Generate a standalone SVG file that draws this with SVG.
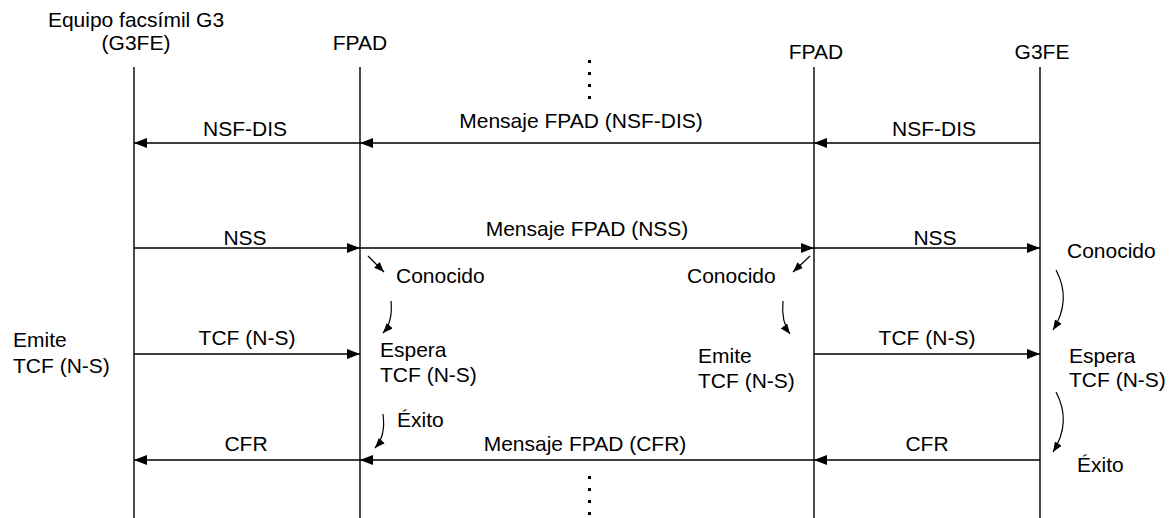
<svg xmlns="http://www.w3.org/2000/svg" width="1175" height="518" viewBox="0 0 1175 518">
<style>
text{font-family:"Liberation Sans",Arial,sans-serif;font-size:21px;fill:#000}
.m{text-anchor:middle}
.life{stroke:#000;stroke-width:1.4;fill:none}
.msg{stroke:#000;stroke-width:1.4;fill:none;marker-end:url(#ah)}
.sm{stroke:#000;stroke-width:1.2;fill:none;marker-end:url(#sh)}
.dot{fill:#000}
</style>
<defs>
<marker id="ah" markerUnits="userSpaceOnUse" markerWidth="14" markerHeight="11" refX="13" refY="5" orient="auto"><path d="M0,0 L13,5 L0,10 z" fill="#000"/></marker>
<marker id="sh" markerUnits="userSpaceOnUse" markerWidth="11" markerHeight="9" refX="10" refY="4" orient="auto"><path d="M0,0 L10,4 L0,8 z" fill="#000"/></marker>
</defs>
<g id="g3fe-left">
<text class="m" x="136" y="27">Equipo facsímil G3</text>
<text class="m" x="136" y="50">(G3FE)</text>
<line class="life" x1="134" y1="67" x2="134" y2="518"/>
<text x="13" y="347">Emite</text>
<text x="13" y="373">TCF (N-S)</text>
</g>
<g id="fpad-left">
<text class="m" x="360" y="50">FPAD</text>
<line class="life" x1="360" y1="67" x2="360" y2="518"/>
<text x="396" y="283">Conocido</text>
<text x="380" y="357">Espera</text>
<text x="380" y="382">TCF (N-S)</text>
<text x="397" y="427">Éxito</text>
</g>
<g id="fpad-right">
<text class="m" x="816" y="59">FPAD</text>
<line class="life" x1="814" y1="67" x2="814" y2="518"/>
<text x="687" y="283">Conocido</text>
<text x="698" y="363">Emite</text>
<text x="698" y="388">TCF (N-S)</text>
</g>
<g id="g3fe-right">
<text class="m" x="1042" y="59">G3FE</text>
<line class="life" x1="1040" y1="67" x2="1040" y2="518"/>
<text x="1067" y="258">Conocido</text>
<text x="1069" y="363">Espera</text>
<text x="1069" y="387">TCF (N-S)</text>
<text x="1077" y="472">Éxito</text>
</g>
<g id="ellipsis">
<rect class="dot" x="588" y="60" width="3" height="3"/>
<rect class="dot" x="588" y="72" width="3" height="3"/>
<rect class="dot" x="588" y="84" width="3" height="3"/>
<rect class="dot" x="588" y="96" width="3" height="3"/>
<rect class="dot" x="588" y="476" width="3" height="3"/>
<rect class="dot" x="588" y="488" width="3" height="3"/>
<rect class="dot" x="588" y="500" width="3" height="3"/>
<rect class="dot" x="588" y="512" width="3" height="3"/>
</g>
<g id="connectors">
<line class="msg" x1="360" y1="143" x2="134" y2="143"/>
<line class="msg" x1="814" y1="143" x2="360" y2="143"/>
<line class="msg" x1="1040" y1="143" x2="814" y2="143"/>
<line class="msg" x1="134" y1="248" x2="360" y2="248"/>
<line class="msg" x1="360" y1="248" x2="814" y2="248"/>
<line class="msg" x1="814" y1="248" x2="1040" y2="248"/>
<line class="msg" x1="134" y1="354" x2="360" y2="354"/>
<line class="msg" x1="814" y1="354" x2="1040" y2="354"/>
<line class="msg" x1="360" y1="460" x2="134" y2="460"/>
<line class="msg" x1="814" y1="460" x2="360" y2="460"/>
<line class="msg" x1="1040" y1="460" x2="814" y2="460"/>
<line class="sm" x1="368" y1="256" x2="384" y2="272"/>
<line class="sm" x1="810" y1="256" x2="793" y2="272"/>
<path class="sm" d="M391,301 Q393,322 383,333"/>
<path class="sm" d="M783,301 Q781,322 790,334"/>
<path class="sm" d="M1056,270 Q1072,300 1053,330"/>
<path class="sm" d="M1056,392 Q1072,422 1053,452"/>
<path class="sm" d="M383,414 Q386,436 375,448"/>
</g>
<g id="labels">
<text class="m" x="245" y="136">NSF-DIS</text>
<text class="m" x="581" y="128">Mensaje FPAD (NSF-DIS)</text>
<text class="m" x="934" y="136">NSF-DIS</text>
<text class="m" x="245" y="245">NSS</text>
<text class="m" x="587" y="236">Mensaje FPAD (NSS)</text>
<text class="m" x="935" y="245">NSS</text>
<text class="m" x="247" y="345">TCF (N-S)</text>
<text class="m" x="927" y="345">TCF (N-S)</text>
<text class="m" x="246" y="451">CFR</text>
<text class="m" x="585" y="451">Mensaje FPAD (CFR)</text>
<text class="m" x="927" y="451">CFR</text>
</g>
</svg>
